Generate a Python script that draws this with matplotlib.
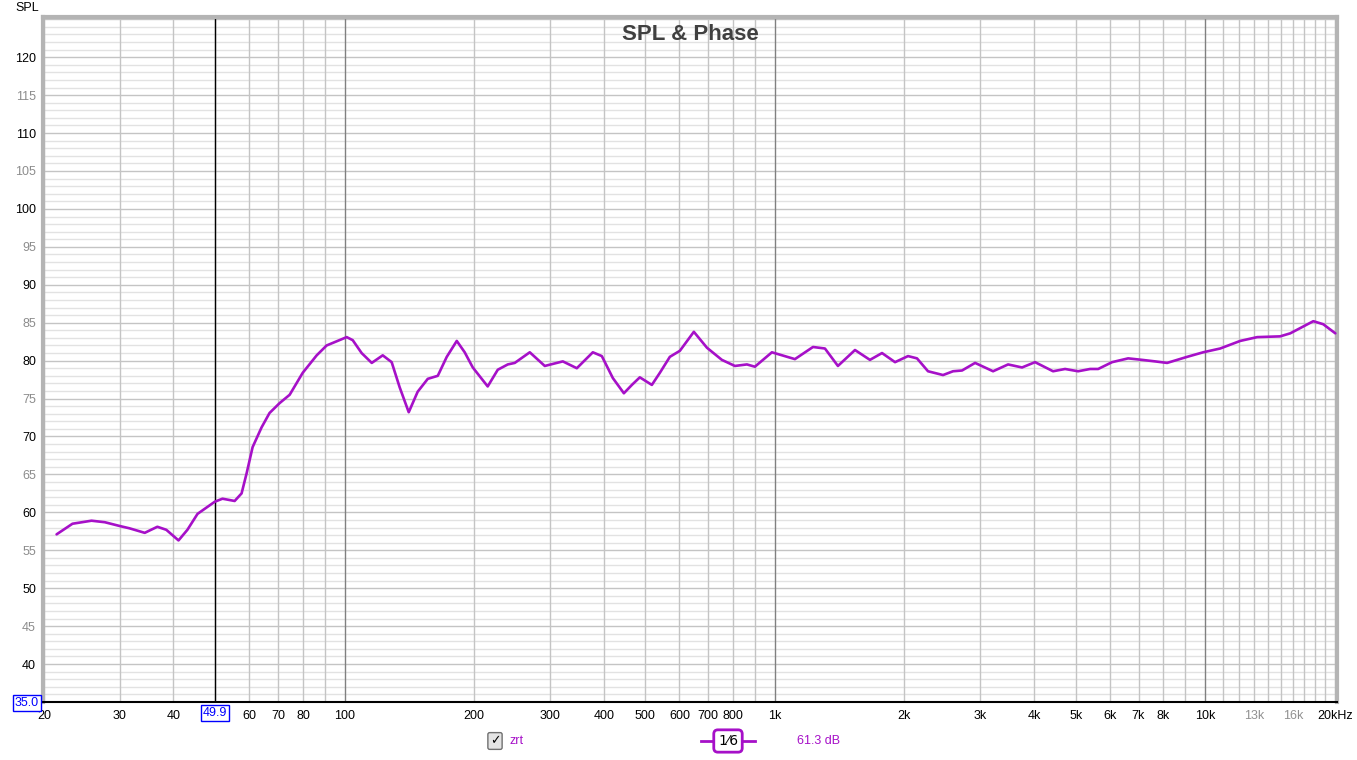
import matplotlib
matplotlib.use("Agg")
import matplotlib.pyplot as plt
import matplotlib.transforms as mtransforms
from matplotlib.lines import Line2D

# ~~~ data ~~~
freq_hz = [21.4, 23.3, 25.8, 27.7, 30.0, 31.6, 34.3, 36.7, 38.5, 41.1, 43.1, 45.5,
           49.9, 52.0, 55.5, 57.6, 59.2, 61.1, 64.1, 66.9, 70.6, 74.5, 79.9, 86.1,
           90.8, 101.1, 104.4, 109.5, 115.6, 122.6, 128.6, 134.2, 140.9, 147.8,
           156.0, 164.6, 172.7, 182.2, 190.1, 198.5, 215.0, 226.9, 239.4, 248.5,
           269.3, 291.8, 321.4, 346.4, 377.4, 396.0, 420.1, 445.6, 465.1, 485.3,
           517.6, 540.3, 569.9, 601.4, 648.0, 695.1, 752.9, 807.2, 860.7, 898.4,
           984.0, 1113, 1226, 1307, 1401, 1535, 1663, 1774, 1902, 2039, 2139, 2269,
           2459, 2594, 2722, 2919, 3214, 3483, 3753, 4024, 4431, 4725, 5066, 5403,
           5640, 6077, 6622, 7138, 7650, 8157, 9081, 9893, 10838, 12064, 13209,
           14937, 15768, 17840, 18812, 20070]
spl_db = [57.1, 58.5, 58.9, 58.7, 58.2, 57.9, 57.3, 58.1, 57.7, 56.3, 57.7, 59.8,
          61.4, 61.8, 61.5, 62.5, 65.2, 68.6, 71.2, 73.1, 74.4, 75.5, 78.4, 80.7,
          82.0, 83.1, 82.7, 81.0, 79.7, 80.7, 79.8, 76.5, 73.2, 75.9,
          77.6, 78.0, 80.5, 82.6, 81.1, 79.1, 76.6, 78.8, 79.5, 79.7,
          81.1, 79.3, 79.9, 79.0, 81.1, 80.6, 77.7, 75.7, 76.8, 77.8,
          76.8, 78.4, 80.5, 81.3, 83.8, 81.7, 80.1, 79.3, 79.5, 79.2,
          81.1, 80.2, 81.8, 81.6, 79.3, 81.4, 80.1, 81.0, 79.8, 80.6, 80.3, 78.6,
          78.1, 78.6, 78.7, 79.7, 78.6, 79.5, 79.1, 79.8, 78.6, 78.9, 78.6, 78.9,
          78.9, 79.8, 80.3, 80.1, 79.9, 79.7, 80.5, 81.1, 81.6, 82.6, 83.1,
          83.2, 83.6, 85.2, 84.8, 83.6]

x_tick_vals = [20, 30, 40, 60, 70, 80, 100, 200, 300, 400, 500, 600, 700, 800,
               1000, 2000, 3000, 4000, 5000, 6000, 7000, 8000, 10000, 13000, 16000, 20000]
x_tick_labels = ["20", "30", "40", "60", "70", "80", "100", "200", "300", "400", "500",
                 "600", "700", "800", "1k", "2k", "3k", "4k", "5k", "6k", "7k", "8k",
                 "10k", "13k", "16k", "20kHz"]
y_tick_vals = list(range(40, 125, 5))

cursor_hz = 49.9
cursor_db = 61.3
trace_name = "zrt"

PURPLE = "#A610C8"
BLUE = "#0000FF"

plt.rcParams["font.family"] = ["Liberation Sans", "DejaVu Sans"]

fig = plt.figure(figsize=(13.57, 7.6), dpi=100, facecolor="white")
ax = fig.add_axes([43 / 1357, 1 - 702 / 760, (1337 - 43) / 1357, (702 - 17) / 760])
ax.set_xscale("log")
ax.set_xlim(19.9, 20250)
ax.set_ylim(35, 125.3)

# grid lines
for db in range(36, 126):
    col = "#C4C4C4" if db % 5 == 0 else "#E2E2E2"
    ax.axhline(db, color=col, lw=1, zorder=0)
grid_hz = list(range(20, 100, 10)) + list(range(100, 1000, 100)) + \
          list(range(1000, 10000, 1000)) + list(range(10000, 21000, 1000))
for f in grid_hz:
    col = "#808080" if f in (100, 1000, 10000) else "#C4C4C4"
    ax.axvline(f, color=col, lw=1, zorder=0)

# cursor
ax.axvline(cursor_hz, color="black", lw=1, zorder=1)

ax.plot(freq_hz, spl_db, color=PURPLE, lw=1.9, zorder=3,
        solid_capstyle="round", solid_joinstyle="round")

# ticks
ax.xaxis.set_minor_locator(matplotlib.ticker.NullLocator())
ax.set_xticks(x_tick_vals, x_tick_labels)
ax.set_yticks(y_tick_vals, [str(v) for v in y_tick_vals])
ax.tick_params(axis="both", length=0, labelsize=9)
ax.tick_params(axis="x", pad=6)
ax.tick_params(axis="y", pad=5)
for lbl in ax.get_xticklabels():
    lbl.set_color("#909090" if lbl.get_text() in ("13k", "16k") else "black")
for lbl, v in zip(ax.get_yticklabels(), y_tick_vals):
    lbl.set_color("black" if v % 10 == 0 else "#8C8C8C")

# frame
for side in ("left", "top", "right"):
    ax.spines[side].set_color("#B4B4B4")
    ax.spines[side].set_linewidth(3)
ax.spines["bottom"].set_color("black")
ax.spines["bottom"].set_linewidth(1.5)

fig.text(690 / 1357, 1 - 34 / 760, "SPL & Phase", ha="center", va="center",
         fontsize=16, fontweight="bold", color="#404040")
fig.text(15 / 1357, 1 - 8 / 760, "SPL", ha="left", va="center", fontsize=9)

# cursor readouts
fig.text(27 / 1357, 1 - 703 / 760, "35.0", ha="center", va="center", fontsize=9,
         color=BLUE, bbox=dict(boxstyle="square,pad=0.15", fc="white", ec=BLUE, lw=1))
trans = mtransforms.blended_transform_factory(ax.transData, fig.transFigure)
ax.text(cursor_hz, 1 - 713 / 760, f"{cursor_hz:.1f}", transform=trans, ha="center",
        va="center", fontsize=9, color=BLUE,
        bbox=dict(boxstyle="square,pad=0.15", fc="white", ec=BLUE, lw=1))

# bottom legend
ly = 1 - 741 / 760
fig.text(495 / 1357, ly, "\u2713", ha="center", va="center", fontsize=9,
         family="DejaVu Sans", color="black",
         bbox=dict(boxstyle="round,pad=0.15", fc="#E4E4E4", ec="#707070", lw=1))
fig.text(510 / 1357, ly, trace_name, ha="left", va="center", fontsize=9, color=PURPLE)
fig.add_artist(Line2D([701 / 1357, 755 / 1357], [ly, ly], color=PURPLE, lw=2,
                      transform=fig.transFigure))
fig.text(728 / 1357, ly, "1\u20446", ha="center", va="center", fontsize=10,
         family="DejaVu Sans", color="black",
         bbox=dict(boxstyle="round,pad=0.3", fc="white", ec=PURPLE, lw=2))
fig.text(797 / 1357, ly, f"{cursor_db:.1f} dB", ha="left", va="center",
         fontsize=9, color=PURPLE)

fig.savefig("out.png", dpi=100, facecolor="white")
